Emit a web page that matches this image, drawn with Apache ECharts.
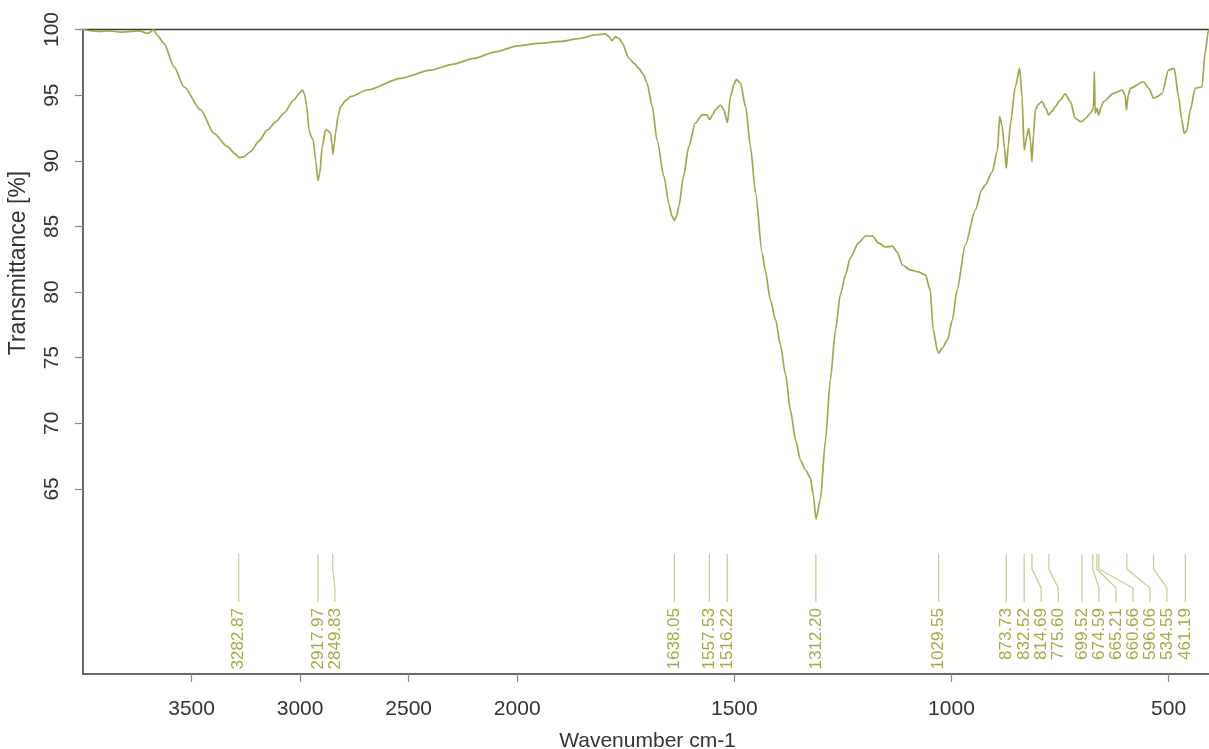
<!DOCTYPE html>
<html>
<head>
<meta charset="utf-8">
<script src="https://cdn.jsdelivr.net/npm/echarts@6/dist/echarts.min.js"></script>
<style>
html,body{margin:0;padding:0;background:#fff;}
#chart{width:1209px;height:749px;}
</style>
</head>
<body>
<div id="chart"></div>
<script>
// ---- data (wavenumber cm-1, transmittance %) ----
const wavenumbers = [4000,3960,3918,3880,3826,3780,3740,3703,3690,3676,3660,3627,3581,3535,3458,3397,3335,3300,3282,3260,3228,3190,3151,3110,3075,3029,3005,2990,2980,2970,2959,2948,2940,2928,2918,2910,2898,2883,2872,2860,2853,2849,2842,2837,2825,2814,2790,2767,2691,2537,2400,2300,2200,2100,2000,1950,1900,1854,1824,1797,1790,1781,1774,1765,1758,1743,1730,1720,1710,1701,1689,1678,1662,1651,1644,1638,1633,1628,1617,1605,1590,1574,1563,1557,1550,1544,1532,1524,1516,1509,1500,1495,1486,1474,1463,1451,1436,1429,1417,1405,1394,1382,1371,1359,1348,1336,1325,1318,1312,1302,1290,1279,1267,1256,1244,1233,1214,1198,1182,1168,1152,1136,1125,1113,1095,1076,1060,1049,1042,1032,1029,1021,1009,998,987,968,945,930,922,906,894,889,883,878,873.7,869,864,853,843,837.5,832.5,827,822,818,814.7,811,807,800,791.5,783,776,768,761,750,738,726,715,703,699,691,680,673,671,669,665,661,655,650,627,607,600,597,593,588,557.6,545,534.5,525,515,500,487,477,470,464,458,450,438.6,423,416,408,400];
const transmittance = [100.0,99.9,99.85,99.9,99.8,99.85,99.9,99.7,99.8,100.0,99.6,98.95,97.17,95.64,93.87,92.09,91.07,90.55,90.25,90.3,90.69,91.5,92.35,93.0,93.62,94.63,95.1,95.39,95.1,94.2,92.35,91.8,91.6,90.0,88.5,89.0,91.07,92.35,92.3,92.09,91.3,90.5,91.4,92.09,93.4,94.12,94.6,94.88,95.39,96.28,96.9,97.35,97.8,98.3,98.75,98.95,99.1,99.33,99.58,99.66,99.5,99.15,99.45,99.3,98.95,97.81,97.4,97.04,96.6,95.9,94.12,91.58,88.79,86.76,85.8,85.45,85.8,86.5,88.79,91.07,92.86,93.49,93.49,93.15,93.5,93.87,94.25,93.87,92.9,94.88,95.9,96.2,95.9,94.12,91.07,87.53,82.96,81.68,79.4,77.88,75.98,73.7,71.02,68.74,67.2,66.45,65.84,64.5,62.7,64.16,68.74,73.31,77.12,79.78,81.3,82.6,83.74,84.27,84.27,83.74,83.43,83.5,83.05,82.06,81.68,81.53,81.3,80.16,77.12,75.5,75.35,75.74,76.35,77.88,80.16,83.59,86.25,87.8,88.16,89.15,90.82,93.36,92.6,91.0,89.43,91.2,92.86,95.64,97.04,94.88,90.82,91.8,92.47,91.5,89.93,92.0,93.87,94.3,94.5,94.0,93.49,93.8,94.12,94.6,95.09,94.5,93.24,92.98,93.0,93.24,93.62,94.0,96.79,93.62,94.0,93.49,94.1,94.5,95.14,95.39,95.0,93.87,95.0,95.52,96.02,95.5,94.76,94.9,95.14,96.92,97.04,94.88,93.2,92.09,92.3,93.87,95.52,95.64,98.19,99.96,100.0];

const peakPositions = [3282.87,2917.97,2849.83,1638.05,1557.53,1516.22,1312.20,1029.55,873.73,832.52,814.69,775.60,699.52,674.59,665.21,660.66,596.06,534.55,461.19];
const peakLabels = ['3282.87','2917.97','2849.83','1638.05','1557.53','1516.22','1312.20','1029.55','873.73','832.52','814.69','775.60','699.52','674.59','665.21','660.66','596.06','534.55','461.19'];

const xTickValues = [3500,3000,2500,2000,1500,1000,500];
const yTickValues = [65,70,75,80,85,90,95,100];

// ---- axis with compressed region above 2000 cm-1 (half scale) ----
const BREAK = 2000;
function toAxis(w){ return w > BREAK ? BREAK + (w - BREAK) / 2 : w; }
function fromAxis(u){ return u > BREAK ? BREAK + (u - BREAK) * 2 : u; }

const X_MIN = 400, X_MAX = 4000, Y_MIN = 50.9, Y_MAX = 100;
const CURVE = '#a4a54a';
const ANNOT_LINE = '#c9c98e';
const ANNOT_TEXT = '#a8a945';
const FONT = '"Liberation Sans", Arial, sans-serif';

const lineData = wavenumbers.map((w, i) => [toAxis(w), transmittance[i]]);
const peakData = peakPositions.map((p, i) => [toAxis(p), 55, i]);

const chart = echarts.init(document.getElementById('chart'), null, {renderer: 'canvas'});

function layoutLabels(api){
  const px = peakPositions.map(p => api.coord([toAxis(p), 55])[0]);
  const gap = 17;
  const lx = [];
  for (let i = 0; i < px.length; i++) {
    lx.push(i === 0 ? px[i] : Math.max(px[i], lx[i-1] + gap));
  }
  return {px, lx};
}

const option = {
  animation: false,
  backgroundColor: '#fff',
  grid: {
    left: 83, top: 29.5, right: -3, bottom: 75,
    outerBoundsMode: 'none', containLabel: false,
    show: true, borderColor: '#3a3a3a', borderWidth: 1.5, backgroundColor: 'transparent'
  },
  xAxis: {
    type: 'value', inverse: true,
    min: toAxis(X_MIN), max: toAxis(X_MAX),
    name: 'Wavenumber cm-1', nameLocation: 'middle', nameGap: 57,
    nameTextStyle: {fontFamily: FONT, fontSize: 21, color: '#333'},
    axisLine: {show: false},
    splitLine: {show: false},
    axisTick: {show: true, length: 8, lineStyle: {color: '#888', width: 1.2},
      customValues: xTickValues.map(toAxis)},
    axisLabel: {fontFamily: FONT, fontSize: 21, color: '#333', margin: 25,
      customValues: xTickValues.map(toAxis),
      formatter: v => String(Math.round(fromAxis(v)))}
  },
  yAxis: {
    type: 'value', min: Y_MIN, max: Y_MAX,
    axisLine: {show: false},
    splitLine: {show: false},
    axisTick: {show: true, length: 8, lineStyle: {color: '#888', width: 1.2},
      customValues: yTickValues},
    axisLabel: {fontFamily: FONT, fontSize: 21, color: '#333', margin: 20, rotate: 90,
      customValues: yTickValues, formatter: v => String(v)}
  },
  graphic: [{
    type: 'text', x: 19, y: 263, rotation: Math.PI / 2,
    style: {text: 'Transmittance [%]', font: '23px ' + FONT, fill: '#333',
      align: 'center', verticalAlign: 'middle'}
  }],
  series: [{
    type: 'line', data: lineData, showSymbol: false, symbol: 'none',
    smooth: 0.25, smoothMonotone: 'x',
    lineStyle: {color: CURVE, width: 1.7}, clip: true, z: 3
  }, {
    type: 'custom', data: peakData, clip: false, z: 2,
    encode: {x: 0, y: 1},
    renderItem: function(params, api){
      const i = api.value(2);
      const {px, lx} = layoutLabels(api);
      const bottom = api.coord([toAxis(X_MIN), Y_MIN])[1];
      const yTop = bottom - 120, yB1 = bottom - 105, yB2 = bottom - 86, yBot = bottom - 72, yLab = bottom - 66;
      const x0 = px[i], x1 = lx[i];
      return {
        type: 'group',
        children: [{
          type: 'polyline',
          shape: {points: [[x0, yTop], [x0, yB1], [x1, yB2], [x1, yBot]]},
          style: {stroke: ANNOT_LINE, lineWidth: 1.2, fill: null}
        }, {
          type: 'text', x: x1, y: yLab, rotation: Math.PI / 2,
          style: {text: peakLabels[i], font: '17px ' + FONT, fill: ANNOT_TEXT,
            align: 'right', verticalAlign: 'middle'}
        }]
      };
    }
  }]
};
chart.setOption(option);
</script>
</body>
</html>
